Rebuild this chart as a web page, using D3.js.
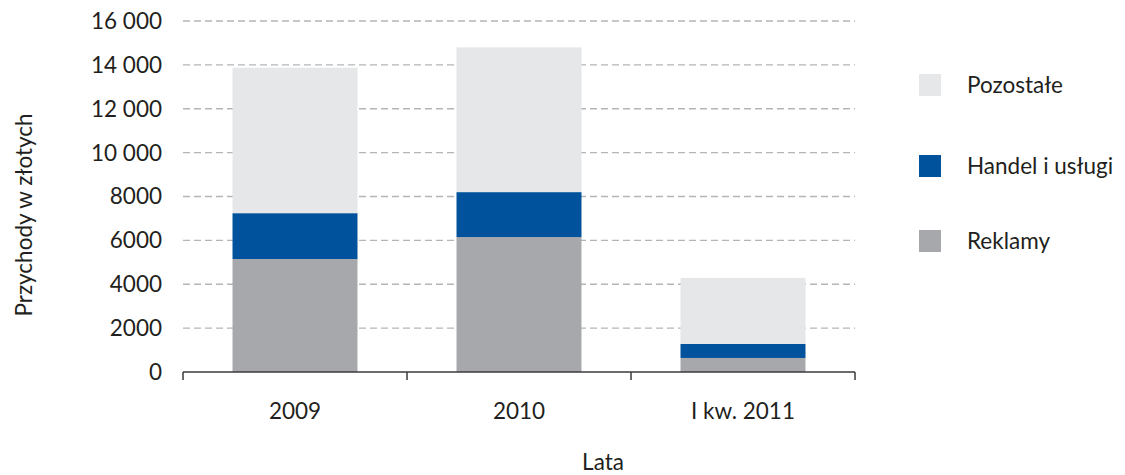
<!DOCTYPE html>
<html>
<head>
<meta charset="utf-8">
<script src="https://cdn.jsdelivr.net/npm/d3@7"></script>
<style>
  body { margin: 0; background: #fff; }
  svg text { font-family: Lato, "Open Sans", sans-serif; fill: #231f20; font-size: 22.5px; }
</style>
</head>
<body>
<div id="chart"></div>
<script>
// data
const years = ['2009', '2010', 'I kw. 2011'];
const reklamy = [5150, 6150, 640];
const handel = [2090, 2050, 640];
const pozostale = [6630, 6600, 3010];
const yTicks = [0, 2000, 4000, 6000, 8000, 10000, 12000, 14000, 16000];
const seriesNames = ['Reklamy', 'Handel i usługi', 'Pozostałe'];
const seriesColors = ['#a7a8ac', '#00529c', '#e6e7e9'];

const width = 1125, height = 475;
const plotLeft = 183, plotRight = 855, plotTop = 21, plotBottom = 372;

const svg = d3.select('#chart')
    .append('svg')
    .attr('width', width)
    .attr('height', height);

const x = d3.scaleBand()
    .domain(years)
    .range([plotLeft, plotRight])
    .paddingInner(0.442)
    .paddingOuter(0.221);

const y = d3.scaleLinear()
    .domain([0, 16000])
    .range([plotBottom, plotTop]);

// polish style: space separator only from 10 000 upward
const fmt = v => v >= 10000 ? d3.format(',')(v).replace(/,/g, ' ') : String(v);

// gridlines
svg.append('g')
    .selectAll('line')
    .data(yTicks.filter(d => d > 0))
    .join('line')
    .attr('x1', plotLeft)
    .attr('x2', plotRight)
    .attr('y1', d => y(d))
    .attr('y2', d => y(d))
    .attr('stroke', '#b4b5b7')
    .attr('stroke-width', 1.3)
    .attr('stroke-dasharray', '7,4');

// stacked bars
const rows = years.map((yr, i) => ({ year: yr, 0: reklamy[i], 1: handel[i], 2: pozostale[i] }));
const stack = d3.stack().keys([0, 1, 2])(rows);

svg.append('g')
    .selectAll('g')
    .data(stack)
    .join('g')
    .attr('fill', (d, i) => seriesColors[i])
    .selectAll('rect')
    .data(d => d)
    .join('rect')
    .attr('x', d => x(d.data.year))
    .attr('width', x.bandwidth())
    .attr('y', d => y(d[1]))
    .attr('height', d => y(d[0]) - y(d[1]));

// x axis
const xAxis = svg.append('g');
xAxis.append('line')
    .attr('x1', plotLeft).attr('x2', plotRight)
    .attr('y1', plotBottom).attr('y2', plotBottom)
    .attr('stroke', '#3a3a3a').attr('stroke-width', 1.5);

const boundaries = years.map(d => x(d) - x.step() * x.paddingInner() / 2).concat([plotRight]);
boundaries[0] = plotLeft;
xAxis.selectAll('.tick')
    .data(boundaries)
    .join('line')
    .attr('class', 'tick')
    .attr('x1', d => d).attr('x2', d => d)
    .attr('y1', plotBottom).attr('y2', plotBottom + 8)
    .attr('stroke', '#3a3a3a').attr('stroke-width', 1.5);

xAxis.selectAll('text')
    .data(years)
    .join('text')
    .attr('x', d => x(d) + x.bandwidth() / 2)
    .attr('y', 411)
    .attr('dy', '0.35em')
    .attr('text-anchor', 'middle')
    .text(d => d);

// y labels
svg.append('g')
    .selectAll('text')
    .data(yTicks)
    .join('text')
    .attr('x', 162)
    .attr('y', d => y(d))
    .attr('dy', '0.35em')
    .attr('text-anchor', 'end')
    .text(fmt);

// axis titles
svg.append('text')
    .attr('transform', 'translate(24,215) rotate(-90)')
    .attr('dy', '0.35em')
    .attr('text-anchor', 'middle')
    .text('Przychody w złotych');

svg.append('text')
    .attr('x', 603)
    .attr('y', 470)
    .attr('text-anchor', 'middle')
    .text('Lata');

// legend
const legendY = [241, 166, 85];
const legend = svg.append('g')
    .selectAll('g')
    .data(seriesNames)
    .join('g')
    .attr('transform', (d, i) => `translate(919,${legendY[i]})`);

legend.append('rect')
    .attr('x', 0).attr('y', -11)
    .attr('width', 22).attr('height', 22)
    .attr('fill', (d, i) => seriesColors[i]);

legend.append('text')
    .attr('x', 48)
    .attr('y', 0)
    .attr('dy', '0.35em')
    .text(d => d);
</script>
</body>
</html>
